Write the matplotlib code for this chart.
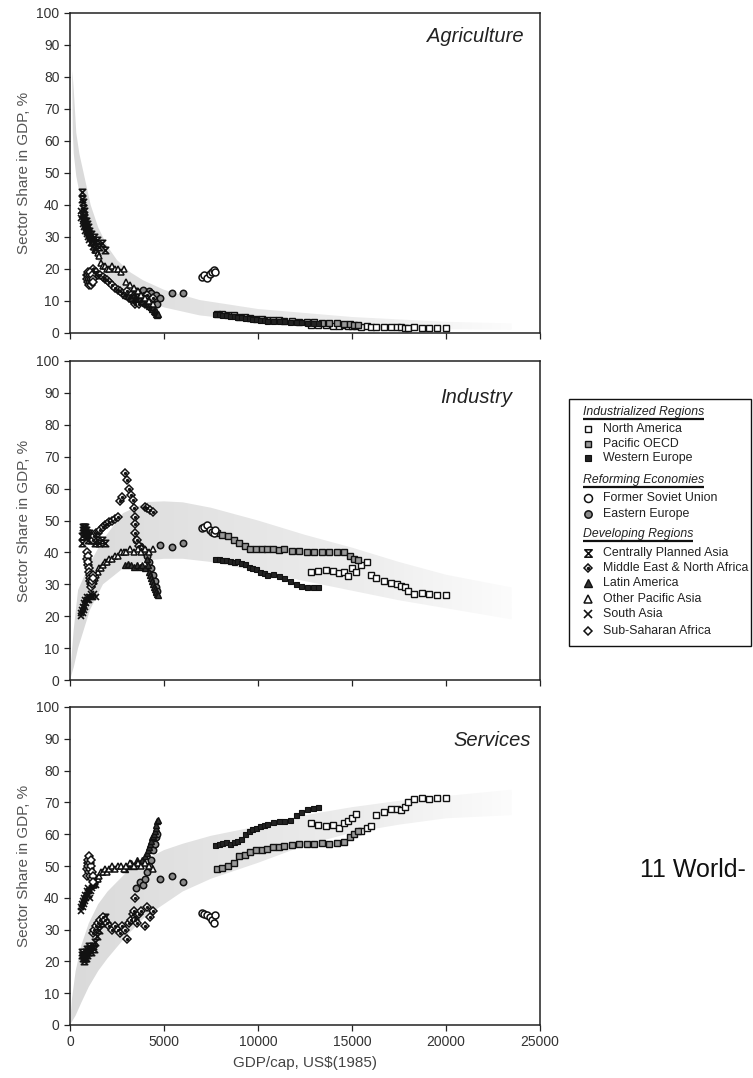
import numpy as np
import matplotlib.pyplot as plt
from matplotlib.path import Path
from matplotlib.patches import Rectangle
from matplotlib.colors import LinearSegmentedColormap

plt.rcParams['font.family'] = ['Liberation Sans', 'DejaVu Sans']

# ---- data (GDP/cap in US$1985, shares in %) ----
sectors = ["Agriculture", "Industry", "Services"]

# Industrialized regions
na_gdp = [12800, 13200, 13600, 14000, 14300, 14600, 14800, 15000, 15200, 15500, 15800, 16000,
          16300, 16700, 17100, 17400, 17600, 17800, 18000, 18300, 18700, 19100, 19500, 20000]
na_agr = [2.5, 2.5, 2.4, 2.3, 2.3, 2.5, 2.2, 2.1, 2.2, 2.0, 2.1, 2.0,
          1.9, 1.8, 1.8, 1.9, 1.8, 1.7, 1.7, 1.8, 1.7, 1.7, 1.6, 1.6]
na_ind = [34, 34.3, 34.5, 34.2, 33.5, 34, 32.5, 35, 34, 36, 37, 33,
          32, 31, 30.5, 30, 29.5, 29, 28, 27, 27.2, 27, 26.8, 26.5]
na_srv = [63.5, 63, 62.5, 63, 62, 63.5, 64, 65, 66.5, 61, 62, 62.5,
          66, 67, 68, 68, 67.5, 68.5, 70, 71, 71.5, 71, 71.5, 71.5]

po_gdp = [7800, 8100, 8400, 8700, 9000, 9300, 9600, 9900, 10200, 10500, 10800, 11100,
          11400, 11800, 12200, 12600, 13000, 13400, 13800, 14200, 14600, 14900, 15100, 15300]
po_agr = [6, 6, 5.5, 5.5, 5, 5, 4.8, 4.5, 4.5, 4.2, 4, 4,
          3.8, 3.6, 3.5, 3.4, 3.3, 3.2, 3, 3, 2.8, 2.8, 2.6, 2.5]
po_ind = [46, 45.5, 45, 44, 43, 42, 41, 41, 41, 41.2, 41, 40.8,
          41, 40.5, 40.3, 40, 40, 40.2, 40, 40.1, 40, 39, 38, 37.5]
po_srv = [49, 49.5, 50, 51, 53, 53.5, 54.5, 55, 55, 55.5, 56, 56,
          56.2, 56.5, 57, 57, 57, 57.2, 57, 57.3, 57.5, 59, 60, 61]

we_gdp = [7700, 7900, 8100, 8300, 8500, 8700, 8900, 9100, 9300, 9500, 9700, 9900,
          10100, 10300, 10500, 10800, 11100, 11400, 11700, 12000, 12300, 12600, 12900, 13200]
we_agr = [6, 5.8, 5.6, 5.5, 5.3, 5.2, 5, 4.9, 4.7, 4.6, 4.4, 4.3,
          4.2, 4, 3.9, 3.8, 3.7, 3.6, 3.5, 3.4, 3.3, 3.2, 3.1, 3]
we_ind = [38, 37.8, 37.5, 37.6, 37.3, 37, 37.2, 36.8, 36.5, 35.5, 35, 34.8,
          34, 33.5, 33, 33.2, 32.5, 32, 31, 30, 29.5, 29.2, 29, 29]
we_srv = [56.5, 57, 57.2, 57.5, 57, 57.5, 58, 58.5, 60, 61, 61.5, 62,
          62.5, 63, 63.2, 63.8, 64, 64.2, 64.5, 66, 67, 68, 68.2, 68.5]

# Reforming economies
fsu_gdp = [7000, 7150, 7300, 7450, 7550, 7650, 7720]
fsu_agr = [17.6, 18, 17.2, 18.5, 19, 19.7, 19.2]
fsu_ind = [47.5, 48, 48.5, 47, 46.5, 46, 47]
fsu_srv = [35.2, 35, 34.5, 34, 33, 32, 34.5]

ee_gdp = [3500, 3700, 3900, 4000, 4100, 4200, 4300, 4400, 4500, 4600, 4650, 4800, 5400, 6000]
ee_agr = [13, 12, 13.5, 12, 11, 13, 12.5, 10, 11, 12, 9, 11, 12.4, 12.4]
ee_ind = [44, 42, 41, 40, 39, 37, 35, 33, 31, 29, 28, 42.3, 41.8, 43]
ee_srv = [43, 45, 44, 46, 48, 50, 52, 55, 57, 59, 60, 46, 46.7, 45.1]

# Developing regions
cpa_gdp = [620, 650, 680, 700, 720, 740, 760, 780, 800, 830, 860, 890, 920,
           950, 990, 1030, 1080, 1130, 1200, 1280, 1350, 1450, 1550, 1700, 1850]
cpa_agr = [44, 42, 41, 39, 38, 37, 36, 35, 34, 35, 33, 34, 32,
           33, 31, 32, 30, 31, 29, 30, 28, 29, 27, 28, 26]
cpa_ind = [43, 45, 47, 48, 47, 48, 46, 47, 48, 46, 47, 45, 46,
           44, 45, 46, 45, 44, 45, 44, 43, 44, 43, 44, 43]
cpa_srv = [23, 22, 21, 22, 21, 20, 22, 21, 22, 23, 21, 22, 24,
           23, 24, 25, 24, 23, 25, 24, 26, 28, 30, 32, 34]

me_gdp = [1200, 1300, 1400, 1500, 1600, 1750, 1850, 1950, 2100, 2250, 2400, 2550, 2650, 2750, 2900,
          3050, 3150, 3270, 3350, 3420, 3440, 3460, 3480, 3550, 3650, 3800, 3980, 4100, 4250, 4400]
me_agr = [20, 19, 19, 18, 18, 17.6, 17, 16.5, 16, 15, 14, 13.5, 13, 12.5, 12,
          13, 11, 12, 10, 11, 12, 9, 10, 11, 9, 10, 9, 12, 8, 11]
me_ind = [44, 45, 46, 46, 47, 48, 48.5, 49, 49.5, 50, 50.5, 51, 56, 57.5, 64.8,
          62.7, 60, 58, 56.4, 53.8, 51, 49, 46, 44, 42, 41, 54.3, 53.8, 53.2, 52.8]
me_srv = [29, 30, 31, 32, 33, 34, 33, 32, 31, 30, 31, 30, 29, 31, 30,
          27, 32, 33, 35, 36, 40, 34, 33, 32, 35, 36, 31, 37, 34, 36]

la_gdp = [2950, 3100, 3250, 3400, 3550, 3700, 3850, 4000, 4100, 4150, 4200,
          4250, 4300, 4350, 4400, 4450, 4500, 4550, 4600, 4650, 4700]
la_agr = [12, 11.5, 11, 12, 10.5, 11, 10, 9.5, 10, 9, 8.5,
          9, 8, 7.5, 8, 7, 6.5, 7, 6, 5.5, 6]
la_ind = [36, 36.5, 36, 35.5, 36, 35.5, 36, 35, 38, 36, 34,
          33, 32, 31, 30, 29, 28.5, 28, 27.5, 27, 26.5]
la_srv = [49, 50, 51, 50, 52, 51, 52, 53, 54, 55, 56,
          57, 58, 59, 59.5, 60, 61, 62, 63, 64, 64.5]

opa_gdp = [1180, 1250, 1320, 1400, 1480, 1560, 1650, 1750, 1850, 1950, 2100, 2250,
           2400, 2550, 2700, 2850, 3000, 3200, 3400, 3600, 3800, 4000, 4200, 4400]
opa_agr = [28, 27, 26, 26, 25, 24, 22, 21, 21, 20, 20, 21,
           20, 20, 19, 20, 16, 15, 14, 13, 12, 11, 10, 9]
opa_ind = [30, 31, 32, 33, 34, 35, 35, 36, 37, 37, 38, 38,
           39, 39, 40, 40, 40, 41, 40, 41, 40, 41, 40, 41]
opa_srv = [44, 44, 45, 46, 46, 47, 48, 48, 49, 48, 49, 50,
           49, 50, 50, 49, 50, 51, 50, 51, 50, 51, 50, 49]

sa_gdp = [580, 610, 640, 670, 700, 730, 760, 790, 820, 850, 880,
          910, 950, 990, 1030, 1080, 1130, 1180, 1240, 1300, 1380]
sa_agr = [38, 36, 37, 35, 34, 36, 33, 34, 32, 33, 31,
          32, 30, 31, 29, 30, 28, 29, 27, 28, 26]
sa_ind = [20, 21, 22, 21, 23, 22, 24, 23, 25, 24, 25,
          26, 25, 26, 25, 26, 27, 26, 26, 27, 26]
sa_srv = [36, 37, 38, 37, 39, 38, 40, 39, 41, 40, 42,
          41, 43, 42, 41, 40, 42, 43, 44, 45, 44]

ssa_gdp = [900, 920, 940, 960, 980, 1000, 1020, 1040, 1060, 1080, 1100, 1120, 1150, 1180, 1210, 1240]
ssa_agr = [18, 17, 19, 16, 18, 17, 15, 18, 16, 19, 17, 15, 16, 18, 17, 16]
ssa_ind = [40, 38, 39, 36, 37, 35, 34, 33, 32, 31, 30, 29, 30, 31, 33, 32]
ssa_srv = [47, 49, 51, 52, 50, 48, 53, 51, 49, 47, 50, 52, 48, 46, 47, 45]

# uncertainty bands (lower / upper edges of the grey area)
agr_band_gdp = [120, 150, 200, 335, 500, 800, 1100, 1500, 2000, 2500, 3200, 3880,
                5000, 6900, 10000, 15000, 20000, 23500]
agr_band_hi = [82, 80, 76, 62.5, 56, 48, 40, 33, 27, 22.8, 19, 16.5, 13.5, 10.3, 7.5, 5, 3.5, 3]
agr_band_lo = [78, 62.5, 56, 49, 44, 37, 30, 22.3, 17.5, 15, 12.2, 10.3, 8, 5.5, 3.5, 2, 1.2, 1]

ind_band_gdp = [0, 50, 200, 430, 1064, 1755, 2820, 4100, 5000, 6000, 7500, 10000,
                12500, 15000, 17500, 20000, 23500]
ind_band_hi = [0, 5, 16, 28.2, 36.7, 44, 52.3, 55.8, 56, 55.7, 54, 50, 45.5, 41.5, 37, 33, 29]
ind_band_lo = [0, 1, 4, 10, 22, 30, 35, 37.5, 38, 38, 37, 34, 31, 28, 25, 22.5, 19]

srv_band_gdp = [0, 100, 300, 600, 1000, 1500, 2000, 3000, 4000, 5000, 6000, 7500,
                10000, 12500, 15000, 17500, 20000, 23500]
srv_band_hi = [0, 8, 17, 25, 32, 38, 42, 48, 52, 55, 57, 59.5, 62.5, 66, 68.5, 70.5, 72, 74]
srv_band_lo = [0, 1, 3, 7, 12, 17, 21, 28, 34, 38, 42, 46, 51, 56.5, 60.5, 63, 65, 66]

groups = ["Industrialized Regions", "Reforming Economies", "Developing Regions"]
group_members = [["North America", "Pacific OECD", "Western Europe"],
                 ["Former Soviet Union", "Eastern Europe"],
                 ["Centrally Planned Asia", "Middle East & North Africa", "Latin America",
                  "Other Pacific Asia", "South Asia", "Sub-Saharan Africa"]]

regions = {
    "North America": (na_gdp, na_agr, na_ind, na_srv),
    "Pacific OECD": (po_gdp, po_agr, po_ind, po_srv),
    "Western Europe": (we_gdp, we_agr, we_ind, we_srv),
    "Former Soviet Union": (fsu_gdp, fsu_agr, fsu_ind, fsu_srv),
    "Eastern Europe": (ee_gdp, ee_agr, ee_ind, ee_srv),
    "Centrally Planned Asia": (cpa_gdp, cpa_agr, cpa_ind, cpa_srv),
    "Middle East & North Africa": (me_gdp, me_agr, me_ind, me_srv),
    "Latin America": (la_gdp, la_agr, la_ind, la_srv),
    "Other Pacific Asia": (opa_gdp, opa_agr, opa_ind, opa_srv),
    "South Asia": (sa_gdp, sa_agr, sa_ind, sa_srv),
    "Sub-Saharan Africa": (ssa_gdp, ssa_agr, ssa_ind, ssa_srv),
}
bands = [(agr_band_gdp, agr_band_lo, agr_band_hi),
         (ind_band_gdp, ind_band_lo, ind_band_hi),
         (srv_band_gdp, srv_band_lo, srv_band_hi)]

# ---- marker styles ----
hourglass = Path([(-1, 1), (1, 1), (-1, -1), (1, -1), (-1, 1)],
                 [Path.MOVETO, Path.LINETO, Path.LINETO, Path.LINETO, Path.CLOSEPOLY])
ink = '#111111'
styles = {
    "North America": dict(marker='s', ms=4.2, mfc='white', mec=ink, mew=1.0),
    "Pacific OECD": dict(marker='s', ms=4.2, mfc='#999999', mec=ink, mew=1.0),
    "Western Europe": dict(marker='s', ms=3.6, mfc='#222222', mec=ink, mew=0.8),
    "Former Soviet Union": dict(marker='o', ms=5, mfc='white', mec=ink, mew=1.1),
    "Eastern Europe": dict(marker='o', ms=4.6, mfc='#8a8a8a', mec=ink, mew=1.1),
    "Centrally Planned Asia": dict(marker=hourglass, ms=4.6, mfc='none', mec=ink, mew=1.2),
    "Middle East & North Africa": dict(marker='D', ms=3.9, mfc='white', mec=ink, mew=1.1),
    "Latin America": dict(marker='^', ms=4.6, mfc='#333333', mec=ink, mew=1.0),
    "Other Pacific Asia": dict(marker='^', ms=4.6, mfc='white', mec=ink, mew=1.1),
    "South Asia": dict(marker='x', ms=4.4, mec=ink, mew=1.2),
    "Sub-Saharan Africa": dict(marker='D', ms=3.7, mfc='white', mec=ink, mew=1.1),
}
dotted = {"Middle East & North Africa"}

W, H = 753, 1078
fig = plt.figure(figsize=(W / 100, H / 100), dpi=100)


def px_axes(left, top, right, bottom):
    return fig.add_axes([left / W, 1 - bottom / H, (right - left) / W, (bottom - top) / H])


band_cmap = LinearSegmentedColormap.from_list('band', ['#dadada', '#e4e4e4', '#ededed', '#fcfcfc'])

frames = [(13, 333), (361, 680), (707, 1025)]
title_pos = [(0.965, 0.925), (0.94, 0.887), (0.98, 0.896)]

for i, (top, bottom) in enumerate(frames):
    ax = px_axes(70, top, 540, bottom)
    g, lo, hi = bands[i]
    poly = ax.fill_between(g, lo, hi, facecolor='none', edgecolor='none')
    grad = np.linspace(0, 1, 256).reshape(1, -1)
    im = ax.imshow(grad, extent=[g[0], g[-1], 0, 100], aspect='auto', origin='lower',
                   cmap=band_cmap, zorder=1, interpolation='bilinear')
    im.set_clip_path(poly.get_paths()[0], transform=ax.transData)

    for name, cols in regions.items():
        gdp = cols[0]
        share = cols[1 + i]
        ax.plot(gdp, share, linestyle='none', zorder=3, **styles[name])
        if name in dotted:
            ax.plot(gdp, share, linestyle='none', marker='o', ms=1.4, color=ink, zorder=4)

    ax.set_xlim(0, 25000)
    ax.set_ylim(0, 100)
    ax.set_xticks(range(0, 25001, 5000))
    ax.set_yticks(range(0, 101, 10))
    ax.tick_params(direction='out', length=4, width=0.9, colors='#222222',
                   labelsize=10, labelcolor='#333333')
    for s in ax.spines.values():
        s.set_linewidth(1.1)
        s.set_color('#222222')
    ax.set_ylabel("Sector Share in GDP, %", fontsize=11, color='#555555', labelpad=4)
    ax.text(title_pos[i][0], title_pos[i][1], sectors[i], transform=ax.transAxes,
            ha='right', va='center', fontsize=14.5, style='italic', color='#222222')
    if i < 2:
        ax.tick_params(labelbottom=False)
    else:
        ax.set_xlabel("GDP/cap, US$(1985)", fontsize=11, color='#444444', labelpad=5)

# ---- legend box drawn in figure pixel coordinates ----
lax = fig.add_axes([0, 0, 1, 1], zorder=-1)
lax.set_xlim(0, W)
lax.set_ylim(H, 0)
lax.axis('off')
lax.add_patch(Rectangle((569, 399), 182, 247, fill=False, ec='#111111', lw=1.0))

header_y = [412, 480, 534]
item_y = [[429, 444, 458], [498, 514], [553, 568, 583, 599, 614, 631]]
header_texts = []
for grp, members, hy, ys in zip(groups, group_members, header_y, item_y):
    t = lax.text(583, hy, grp, fontsize=8.8, style='italic', va='center', ha='left', color='#222222')
    header_texts.append((t, hy))
    for name, y in zip(members, ys):
        st = dict(styles[name])
        st['ms'] = st['ms'] * 1.15
        lax.plot([588], [y], linestyle='none', **st)
        if name in dotted:
            lax.plot([588], [y], linestyle='none', marker='o', ms=1.5, color=ink)
        lax.text(603, y, name, fontsize=8.9, va='center', ha='left', color='#222222')

fig.canvas.draw()
inv = lax.transData.inverted()
for t, hy in header_texts:
    bb = t.get_window_extent()
    x0 = inv.transform((bb.x0, bb.y0))[0]
    x1 = inv.transform((bb.x1, bb.y0))[0]
    lax.plot([x0, x1], [hy + 7, hy + 7], color='#111111', lw=1.6, solid_capstyle='butt')

lax.text(640, 870, "11 World-", fontsize=18, va='center', ha='left', color='#111111')

fig.savefig('out.png', dpi=100)
